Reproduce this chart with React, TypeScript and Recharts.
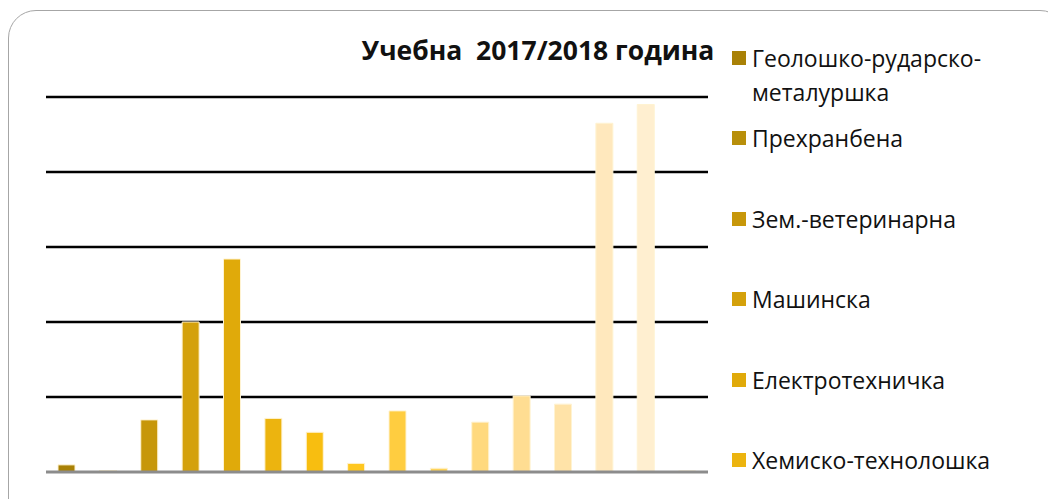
import { BarChart, Bar, XAxis, YAxis, Cell, CartesianGrid, ReferenceLine } from "recharts";

// Профили (редослед као у легенди) и вредности за 2017/2018
const CATEGORIES = [
  "Геолошко-рударско-металуршка",
  "Прехранбена",
  "Зем.-ветеринарна",
  "Машинска",
  "Електротехничка",
  "Хемиско-технолошка",
  "Текстилна",
  "Шумарска",
  "Грађевинска",
  "Графичка",
  "Саобраћајна",
  "Трговинска",
  "Угоститељско-туристичка",
  "Економска",
  "Здравствена",
  "Уметничка",
];
const VALUES = [1.9, 0.4, 13.9, 40, 56.8, 14.3, 10.6, 2.3, 16.3, 1.0, 13.3, 20.3, 18.1, 93, 98, 0.3];
const COLORS = [
  "#A98106", "#B88F0A", "#C7970A", "#D4A10B", "#E0AA0A", "#ECB40F",
  "#F8BE10", "#FFC71F", "#FFCD40", "#FFD45A", "#FFD97E", "#FFDD92",
  "#FFE3A8", "#FFE8BD", "#FFEFD0", "#FFF3DC",
];
const GRID_TICKS = [20, 40, 60, 80, 100];
const LEGEND_SHOWN = 6; // легенда је у оригиналу одсечена после шесте ставке
const TITLE = "Учебна  2017/2018 година";

const FONT = "'Open Sans', 'Noto Sans', sans-serif";

const data = CATEGORIES.map((name, i) => ({ name, value: VALUES[i] }));

export default function App() {
  return (
    <div
      style={{
        position: "fixed",
        left: 8,
        top: 8,
        width: 1040,
        height: 491,
        overflow: "hidden",
        fontFamily: FONT,
        background: "#fff",
      }}
    >
      {/* рамка */}
      <div
        style={{
          position: "absolute",
          left: 0,
          top: 2,
          width: 1060,
          height: 530,
          border: "1.5px solid #a6a6a6",
          borderRadius: 28,
          boxSizing: "border-box",
        }}
      />

      <BarChart
        width={1040}
        height={491}
        data={data}
        margin={{ top: 89, right: 340, left: 38, bottom: 27 }}
        style={{ position: "absolute", left: 0, top: 0 }}
      >
        <CartesianGrid
          vertical={false}
          horizontalValues={GRID_TICKS}
          stroke="#000"
          strokeWidth={2.5}
        />
        <XAxis dataKey="name" hide />
        <YAxis hide domain={[0, 100]} ticks={[0, ...GRID_TICKS]} />
        <Bar dataKey="value" barSize={17} stroke="#fff3d2" strokeWidth={1} isAnimationActive={false}>
          {data.map((d, i) => (
            <Cell key={d.name} fill={COLORS[i]} />
          ))}
        </Bar>
        <ReferenceLine y={0} stroke="#8c8c8c" strokeWidth={3} />
      </BarChart>

      {/* наслов */}
      <div
        style={{
          position: "absolute",
          left: 280,
          top: 24,
          width: 500,
          textAlign: "center",
          fontWeight: 700,
          fontSize: 26.5,
          lineHeight: "36px",
          color: "#111",
          whiteSpace: "pre",
        }}
      >
        {TITLE}
      </div>

      {/* легенда */}
      {CATEGORIES.slice(0, LEGEND_SHOWN).map((name, i) => {
        const center = i === 0 ? 58 : 138 + (i - 1) * 80.5;
        return (
          <div
            key={name}
            style={{
              position: "absolute",
              left: 724,
              top: center - 17 - 8,
              display: "flex",
              alignItems: "flex-start",
              fontSize: 23,
              lineHeight: "34px",
              color: "#111",
            }}
          >
            <span
              style={{
                display: "inline-block",
                width: 14,
                height: 14,
                marginTop: 10,
                marginRight: 6,
                background: COLORS[i],
                flex: "none",
              }}
            />
            <span style={{ maxWidth: 280 }}>{name}</span>
          </div>
        );
      })}
    </div>
  );
}
